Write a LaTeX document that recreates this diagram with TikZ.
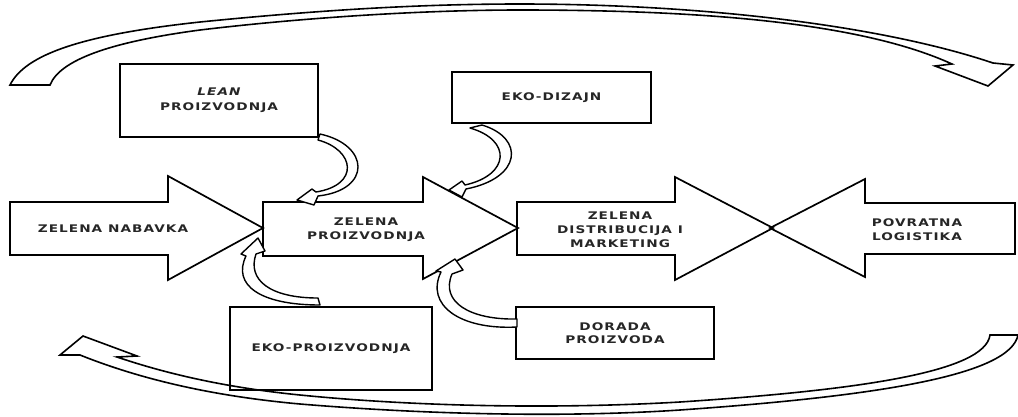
\documentclass[tikz,border=0pt]{standalone}
\usepackage{fontspec}
\newfontfamily\arrowfont[FakeStretch=1.3,LetterSpace=10]{DejaVu Sans Bold}
\newfontfamily\arrowfontit[FakeStretch=1.3,LetterSpace=10]{DejaVu Sans Bold Oblique}
\begin{document}
\begin{tikzpicture}[x=1pt,y=-1pt,
  blockarrow/.style={draw=black,line width=1.7pt,line join=miter},
  bigcurve/.style={draw=black,line width=1.6pt,line join=miter},
  smallcurve/.style={draw=black,fill=white,line width=1.4pt,line join=round},
  labeltext/.style={font=\arrowfont\fontsize{10.5}{14}\selectfont,text=black!85,align=center},
  boxnode/.style={labeltext,draw=black,fill=white,line width=1.7pt,inner sep=0pt}]
\useasboundingbox (0,0) rectangle (1018,416);

% side boxes
\node[boxnode,minimum width=198pt,minimum height=73pt,font=\arrowfont\fontsize{10.5}{15}\selectfont] (lean) at (219,100.5) {{\arrowfontit LEAN}\\PROIZVODNJA};
\node[boxnode,minimum width=199pt,minimum height=51pt] (ekodizajn) at (551.5,97.5) {EKO-DIZAJN};
\node[boxnode,minimum width=202pt,minimum height=83pt] (ekoproiz) at (331,348.5) {EKO-PROIZVODNJA};
\node[boxnode,minimum width=198pt,minimum height=52pt,font=\arrowfont\fontsize{10.5}{13}\selectfont] (dorada) at (615,333) {DORADA\\PROIZVODA};

% return loop above
\draw[bigcurve] (10,85) .. controls (25,55) and (80,35) .. (200,22)
  .. controls (320,10) and (420,4) .. (520,4)
  .. controls (700,4) and (880,25) .. (993,63)
  -- (1013,65) -- (988,86) -- (935,66) -- (952,64)
  .. controls (860,22) and (700,10) .. (520,10)
  .. controls (420,10) and (300,18) .. (200,30)
  .. controls (110,42) and (60,60) .. (50,85) -- cycle;

% return loop below
\draw[bigcurve] (1018,335) .. controls (1010,375) and (880,396) .. (680,410)
  .. controls (560,418) and (420,414) .. (300,404)
  .. controls (200,395) and (130,375) .. (80,355)
  -- (60,355) -- (83,336) -- (137,356) -- (117,357)
  .. controls (170,375) and (230,388) .. (300,395)
  .. controls (420,407) and (560,409) .. (680,402)
  .. controls (860,390) and (985,372) .. (990,335) -- cycle;

% main chain of block arrows
\draw[blockarrow] (10,202) -- (168,202) -- (168,176) -- (263,228) -- (168,280) -- (168,255) -- (10,255) -- cycle;
\draw[blockarrow] (263,202) -- (423,202) -- (423,177) -- (518,228) -- (423,279) -- (423,256) -- (263,256) -- cycle;
\draw[blockarrow] (517,202) -- (675,202) -- (675,177) -- (773,228) -- (675,280) -- (675,255) -- (517,255) -- cycle;
\draw[blockarrow] (1015,203) -- (865,203) -- (865,179) -- (770,228) -- (865,277) -- (865,254) -- (1015,254) -- cycle;

\node[labeltext] (nabavka) at (113,229) {ZELENA NABAVKA};
\node[labeltext] (proizvodnja) at (366,230) {ZELENA\\PROIZVODNJA};
\node[labeltext] (distribucija) at (620,229.5) {ZELENA\\DISTRIBUCIJA I\\MARKETING};
\node[labeltext] (povratna) at (917,230) {POVRATNA\\LOGISTIKA};

% small curved arrows feeding the production step
\draw[smallcurve] (320,134) .. controls (370,145) and (372,190) .. (318,196)
  -- (314,205) -- (297,200) -- (312,189) -- (316,192)
  .. controls (360,185) and (355,150) .. (318,140) -- cycle;
\draw[smallcurve] (482,125) .. controls (525,138) and (522,178) .. (466,189)
  -- (462,197) -- (449,190) -- (462,181) -- (465,185)
  .. controls (510,175) and (512,140) .. (470,128) -- cycle;
\draw[smallcurve] (320,305) .. controls (260,305) and (232,285) .. (246,256)
  -- (241,254) -- (258,238) -- (265,251) -- (256,254)
  .. controls (247,280) and (270,298) .. (318,298) -- cycle;
\draw[smallcurve] (517,327) .. controls (460,330) and (425,305) .. (441,272)
  -- (436,271) -- (455,259) -- (463,270) -- (452,274)
  .. controls (440,302) and (470,320) .. (517,319) -- cycle;
\end{tikzpicture}
\end{document}
